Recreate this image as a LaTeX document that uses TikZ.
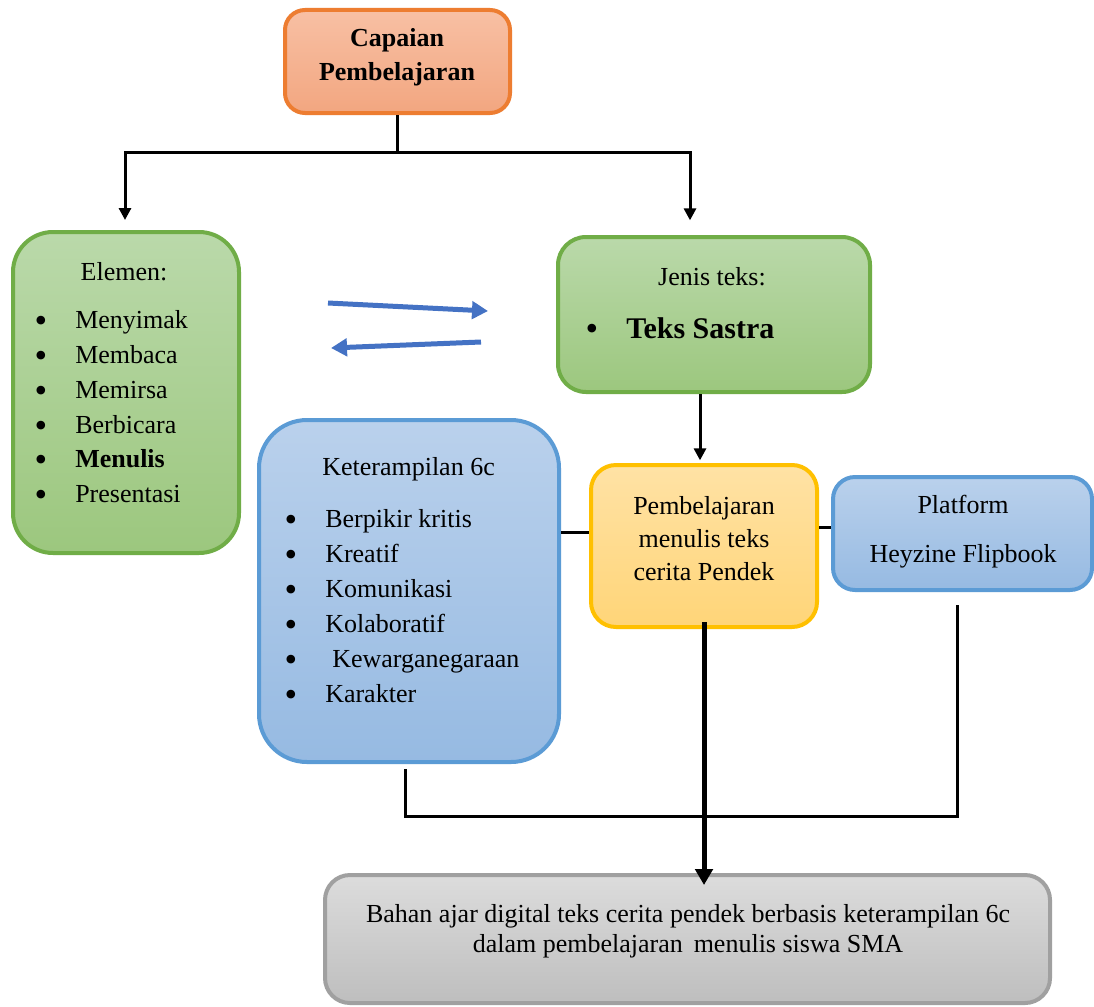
\documentclass[tikz,border=0pt]{standalone}
\usepackage{fontspec}
\setmainfont{Liberation Serif}
\usetikzlibrary{arrows.meta,calc}
\definecolor{orTop}{RGB}{248,192,164}
\definecolor{orBot}{RGB}{242,166,128}
\definecolor{orLine}{RGB}{237,125,49}
\definecolor{grTop}{RGB}{186,217,170}
\definecolor{grBot}{RGB}{156,199,126}
\definecolor{grLine}{RGB}{112,173,71}
\definecolor{blTop}{RGB}{186,209,236}
\definecolor{blBot}{RGB}{150,186,226}
\definecolor{blLine}{RGB}{91,155,213}
\definecolor{yeTop}{RGB}{255,226,165}
\definecolor{yeBot}{RGB}{255,213,120}
\definecolor{yeLine}{RGB}{255,192,0}
\definecolor{gyTop}{RGB}{220,220,220}
\definecolor{gyBot}{RGB}{190,190,190}
\definecolor{gyLine}{RGB}{160,160,160}
\definecolor{arBlue}{RGB}{68,114,196}
\begin{document}
\begin{tikzpicture}[x=0.75pt,y=-0.75pt,
  box/.style={draw, rounded corners=#1, line width=3pt, inner sep=0pt},
  txt/.style={inner sep=0pt, font=\fontsize{19.5pt}{25.5pt}\selectfont},
  bul/.style={inner sep=0pt, anchor=base, font=\fontsize{27pt}{30pt}\selectfont},
  conn/.style={line width=2.25pt, black},
  tip/.style={-{Triangle[length=9pt,width=9pt]}},
  barrow/.style={line width=3.75pt, arBlue, -{Triangle[length=12pt,width=13pt]}}
]
\useasboundingbox[fill=white] (0,0) rectangle (1094,1006);

% boxes
\node[box=15pt, draw=orLine, top color=orTop, bottom color=orBot, minimum width=168.75pt, minimum height=77.25pt] (cap) at (397.5,61.5) {};
\node[box=30pt, draw=grLine, top color=grTop, bottom color=grBot, minimum width=169.5pt, minimum height=240.75pt] (elem) at (126,392.5) {};
\node[box=21pt, draw=grLine, top color=grTop, bottom color=grBot, minimum width=234pt, minimum height=116.25pt] (jenis) at (714,314.5) {};
\node[box=36pt, draw=blLine, top color=blTop, bottom color=blBot, minimum width=225pt, minimum height=256.5pt] (ket) at (409,591) {};
\node[box=18.75pt, draw=yeLine, top color=yeTop, bottom color=yeBot, minimum width=169.5pt, minimum height=121.5pt] (pem) at (704,546) {};
\node[box=16.5pt, draw=blLine, top color=blTop, bottom color=blBot, minimum width=194.25pt, minimum height=84.75pt] (plat) at (962.5,533.5) {};
\node[box=18.75pt, draw=gyLine, top color=gyTop, bottom color=gyBot, minimum width=543.75pt, minimum height=96pt] (bahan) at (687.5,939) {};

% texts
\node[txt, anchor=base, font=\fontsize{19.5pt}{25.5pt}\selectfont\bfseries] (capA) at (397,47) {Capaian};
\node[txt, anchor=base, font=\fontsize{19.5pt}{25.5pt}\selectfont\bfseries] (capB) at (397,80) {Pembelajaran};

\node[txt, anchor=base] (elT) at (124,280) {Elemen:};
\foreach \y/\t/\n in {328/Menyimak/1, 363/Membaca/2, 398/Memirsa/3, 433/Berbicara/4, 502/Presentasi/6}{
  \node[bul] (elb\n) at (41,\y+4) {•};
  \node[txt, anchor=base west] (eli\n) at (75,\y) {\t};
}
\node[bul] (elb5) at (41,471) {•};
\node[txt, anchor=base west, font=\fontsize{19.5pt}{25.5pt}\selectfont\bfseries] (eli5) at (75,467) {Menulis};

\node[txt, anchor=base] (jeT) at (712,285) {Jenis teks:};
\node[bul] (jeb) at (592,340) {•};
\node[txt, anchor=base west, font=\fontsize{22.5pt}{27pt}\selectfont\bfseries] (jei) at (626,338) {Teks Sastra};

\node[txt, anchor=base west] (keT) at (322,475) {Keterampilan 6c};
\foreach \y/\t/\n/\x in {527/Berpikir kritis/1/325, 562/Kreatif/2/325, 597/Komunikasi/3/325, 632/Kolaboratif/4/325, 667/Kewarganegaraan/5/332, 702/Karakter/6/325}{
  \node[bul] (keb\n) at (291,\y+4) {•};
  \node[txt, anchor=base west] (kei\n) at (\x,\y) {\t};
}

\node[txt, anchor=base] (peA) at (704,514) {Pembelajaran};
\node[txt, anchor=base] (peB) at (704,547) {menulis teks};
\node[txt, anchor=base] (peC) at (704,580) {cerita Pendek};

\node[txt, anchor=base] (plA) at (963,513) {Platform};
\node[txt, anchor=base] (plB) at (963,562) {Heyzine Flipbook};

\node[txt, anchor=base] (baA) at (688,922) {Bahan ajar digital teks cerita pendek berbasis keterampilan 6c};
\node[txt, anchor=base] (baB) at (688,952) {dalam pembelajaran\, menulis siswa SMA};

% connectors
\coordinate (split) at (397.5,152);
\draw[conn] (cap.south) -- (split);
\draw[conn, tip] (split) -| ([xshift=-0.75pt,yshift=7.5pt]elem.north);
\draw[conn, tip] (split) -| ([xshift=-18pt,yshift=11pt]jenis.north);

\coordinate (b1s) at (328,303);
\coordinate (b1e) at (488,311);
\coordinate (b2s) at (481,342);
\coordinate (b2e) at (331,348);
\draw[barrow] (b1s) -- (b1e);
\draw[barrow] (b2s) -- (b2e);

\draw[conn, tip] ([xshift=-10.5pt]jenis.south) -- ([xshift=-10.5pt,yshift=2pt]jenis.south |- pem.north);

\draw[conn] ([yshift=44.25pt]ket.east) -- ([yshift=44.25pt]ket.east -| pem.west);
\draw[conn] ([yshift=14.25pt]pem.east) -- ([yshift=14.25pt]pem.east -| plat.west);

\coordinate (fbY) at (0,816);
\coordinate (ketOut) at ([xshift=-3pt,yshift=-3.75pt]ket.south);
\coordinate (platOut) at ([xshift=-4.1pt,yshift=-9.75pt]plat.south);
\draw[conn] (ketOut) -- (ketOut |- fbY) -| (platOut);

\draw[line width=3.75pt, -{Triangle[length=12pt,width=13pt]}] ([yshift=5pt]pem.south) -- ([yshift=-9pt]bahan.north -| pem.south);
\end{tikzpicture}
\end{document}
